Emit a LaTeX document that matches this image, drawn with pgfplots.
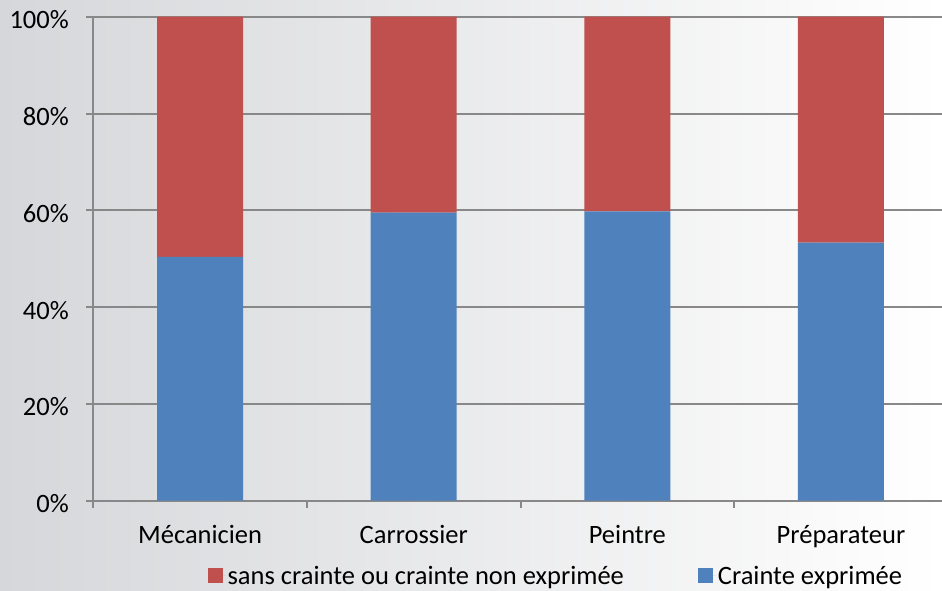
\documentclass[border=0pt]{standalone}
\usepackage{pgfplots}
\pgfplotsset{compat=1.18}
\usepackage{fontspec}
\setmainfont{Carlito}
\definecolor{cRed}{RGB}{192,80,77}
\definecolor{cBlue}{RGB}{79,129,189}
\definecolor{gridc}{RGB}{136,136,136}
\definecolor{bgL}{RGB}{214,215,218}
\begin{document}
\begin{tikzpicture}[font=\fontsize{26.5}{31}\selectfont]
\shade[left color=bgL, right color=white] (0,0) rectangle (942pt,590pt);
\useasboundingbox (0,0) rectangle (942pt,590pt);
\begin{axis}[
  at={(93.3pt,89.3pt)}, anchor=south west,
  scale only axis, width=848.7pt, height=484pt,
  xmin=-0.5, xmax=3.473, ymin=0, ymax=100,
  ybar stacked, bar width=86pt,
  axis lines*=left,
  axis line style={gridc, line width=2pt},
  ymajorgrids, grid style={gridc, line width=2pt},
  major tick length=7pt, tick align=outside,
  tick style={gridc, line width=2pt},
  ytick={0,20,40,60,80,100},
  yticklabels={0\%,20\%,40\%,60\%,80\%,100\%},
  yticklabel style={anchor=east, xshift=-14pt, yshift=-3pt},
  xtick={-0.5,0.5,1.5,2.5},
  xticklabels={},
  extra x ticks={0,1,2,3},
  extra x tick labels={Mécanicien,Carrossier,Peintre,Préparateur},
  extra x tick style={major tick length=0pt, grid=none,
     xticklabel style={anchor=base, yshift=-43pt}},
  legend style={at={(0.545,-0.155)}, anchor=center, draw=none, fill=none,
     legend columns=2, font=\fontsize{26.5}{31}\selectfont,
     /tikz/every even column/.append style={column sep=72pt}},
  legend image code/.code={\draw[#1, draw=none] (0pt,-7.5pt) rectangle (15pt,7.5pt);\path (15pt,0pt) -- (18pt,0pt);},
  reverse legend,
]
\addplot[fill=cBlue, draw=none] coordinates {(0,50.4) (1,59.5) (2,59.8) (3,53.3)};
\addplot[fill=cRed, draw=none] coordinates {(0,49.6) (1,40.5) (2,40.2) (3,46.7)};
\legend{Crainte exprimée, sans crainte ou crainte non exprimée}
\end{axis}
\end{tikzpicture}
\end{document}
